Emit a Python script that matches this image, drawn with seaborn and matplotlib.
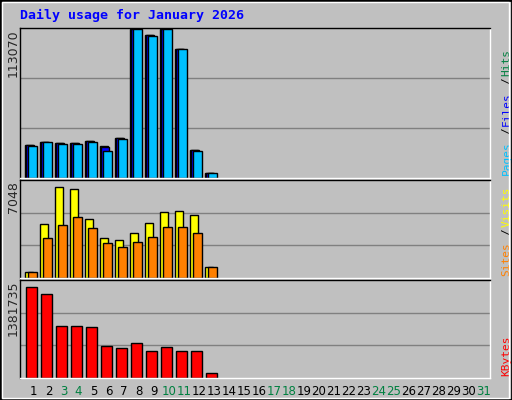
import matplotlib
matplotlib.use("Agg")
import matplotlib.pyplot as plt
import seaborn as sns
import numpy as np

sns.set_style("white")
plt.rcParams['font.family'] = ['DejaVu Sans Mono', 'DejaVu Sans']

days = list(range(1, 32))
weekend = [3, 4, 10, 11, 17, 18, 24, 25, 31]
hits = [25380, 27690, 26920, 26920, 28460, 24610, 30770, 113070, 109220, 113070, 98450, 21540, 3846]
files = [24900, 27690, 26300, 26300, 27900, 23840, 30200, 113070, 108700, 113070, 98450, 21000, 3846]
pages = [24610, 27690, 26150, 26150, 27690, 20770, 30000, 113070, 108450, 113070, 98450, 20770, 3846]
visits = [413, 4034, 6732, 6586, 4399, 2941, 2795, 3305, 4107, 4909, 4982, 4690, 826]
sites = [413, 2941, 3961, 4545, 3670, 2576, 2285, 2649, 3014, 3743, 3743, 3305, 826]
kbytes = [1328400, 1226600, 761200, 761200, 746600, 470300, 441200, 513900, 397500, 455700, 397500, 397500, 77600]
top_max, mid_max, bot_max = 113070, 7048, 1381735

BG = "#C0C0C0"
fig = plt.figure(figsize=(5.12, 4.0), dpi=100, facecolor=BG)
fig.patches.append(plt.Rectangle((0, 0), 1, 1, transform=fig.transFigure, fill=False, ec="black", lw=2))
fig.patches.append(plt.Rectangle((0.004, 0.005), 0.99, 0.99, transform=fig.transFigure, fill=False, ec="white", lw=1))

def mkax(y0, y1):
    ax = fig.add_axes([20/512, 1 - y1/400, 470/512, (y1 - y0)/400])
    ax.set_facecolor(BG)
    ax.set_xlim(0.1, 31.4)
    ax.set_xticks([])
    ax.set_yticks([])
    for s in ax.spines.values():
        s.set_color("black"); s.set_linewidth(1)
    ax.spines['bottom'].set_color("white")
    ax.spines['right'].set_color("white")
    return ax

def ylab(ax, val):
    ax.text(-7/470, 0.99, str(val), transform=ax.transAxes, rotation=90, ha='center', va='top',
            fontsize=9, family='DejaVu Sans')

d = np.arange(1, len(hits) + 1)
ax1 = mkax(28, 178)
ax1.set_ylim(0, top_max * 1.01)
for g in (1/3, 2/3):
    ax1.axhline(top_max * g * 1.01, color="#808080", lw=1, zorder=0)
ax1.bar(d - 0.6, hits, width=0.55, align='edge', color="#008040", ec="black", lw=1)
ax1.bar(d - 0.5, files, width=0.55, align='edge', color="#0000FF", ec="black", lw=1)
ax1.bar(d - 0.4, pages, width=0.6, align='edge', color="#00C0FF", ec="black", lw=1)
ylab(ax1, top_max)

ax2 = mkax(180, 278)
ax2.set_ylim(0, mid_max * 1.03)
for g in (1/3, 2/3):
    ax2.axhline(mid_max * 1.03 * g, color="#808080", lw=1, zorder=0)
ax2.bar(d - 0.6, visits, width=0.55, align='edge', color="#FFFF00", ec="black", lw=1)
ax2.bar(d - 0.35, sites, width=0.55, align='edge', color="#FF8000", ec="black", lw=1)
ylab(ax2, mid_max)

ax3 = mkax(280, 378)
ax3.set_ylim(0, bot_max * 1.04)
for g in (1/3, 2/3):
    ax3.axhline(bot_max * 1.04 * g, color="#808080", lw=1, zorder=0)
ax3.bar(d - 0.5, kbytes, width=0.7, align='edge', color="#FF0000", ec="black", lw=1)
ylab(ax3, bot_max)
ax3.set_xticks(days)
ax3.set_xticklabels([str(x) for x in days], fontsize=8.5, family='DejaVu Sans')
for lab, x in zip(ax3.get_xticklabels(), days):
    lab.set_color("#008040" if x in weekend else "black")
ax3.tick_params(axis='x', length=0, pad=5)

fig.text(20/512, 1 - 15/400, "Daily usage for January 2026", color="#0000FF", fontsize=9.5, fontweight='bold', va='center')

def legend(ax, parts):
    y = 0.02
    for txt, col in parts:
        ax.text(1.035, y, txt, transform=ax.transAxes, rotation=90, color=col, fontsize=8, ha='center', va='bottom')
        y += len(txt) * 0.055 * (150 / (ax.get_position().height * 400))
legend(ax1, [("Pages", "#00C0FF"), ("/", "black"), ("Files", "#0000FF"), ("/", "black"), ("Hits", "#008040")])
legend(ax2, [("Sites", "#FF8000"), ("/", "black"), ("Visits", "#FFFF00")])
legend(ax3, [("KBytes", "#FF0000")])

fig.savefig("out.png", dpi=100, facecolor=BG)
